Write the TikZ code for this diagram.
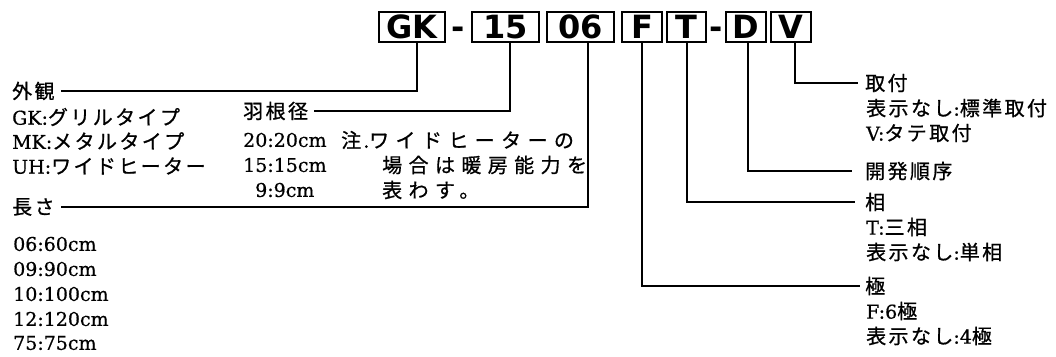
\documentclass[tikz,border=0pt]{standalone}
\usepackage{fontspec}
\setmainfont{DejaVu Serif}[FakeBold=0.6]
\newfontfamily\jp[LetterSpace=12,FakeBold=0.8]{Noto Sans CJK JP}
\newfontfamily\jpnote[LetterSpace=32,FakeBold=0.8]{Noto Sans CJK JP}
\newfontfamily\boxfont{DejaVu Sans}
\begin{document}
\begin{tikzpicture}[x=1pt,y=-1pt,
  codebox/.style={draw, line width=1.5pt, minimum height=30pt, inner sep=0pt,
    font=\boxfont\bfseries\fontsize{32}{32}\selectfont},
  dashtxt/.style={inner sep=0pt, anchor=base, font=\boxfont\bfseries\fontsize{32}{32}\selectfont},
  lbl/.style={inner sep=0pt, anchor=west, font=\fontsize{19}{22}\selectfont},
  jpf/.style={},
  conn/.style={line width=1.2pt}]
\useasboundingbox (0,0) rectangle (1056,356);

% code boxes
\node[codebox, minimum width=66pt] (gkbox) at (412,27) {GK};
\node[dashtxt] (dash1) at (458,38) {-};
\node[codebox, minimum width=67pt] (b15) at (505.5,27) {15};
\node[codebox, minimum width=67pt] (b06) at (580.5,27) {06};
\node[codebox, minimum width=40pt] (bF) at (642,27) {F};
\node[codebox, minimum width=39pt] (bT) at (686.5,27) {T};
\node[dashtxt] (dash2) at (716,38) {-};
\node[codebox, minimum width=40pt] (bD) at (746,27) {D};
\node[codebox, minimum width=40pt] (bV) at (791,27) {V};

% left column
\node[lbl] (gaikan) at (12,91) {\jp\fontsize{20}{22}\selectfont 外観};
\node[lbl] (gk) at (12,117) {GK:{\jp\fontsize{20}{22}\selectfont グリルタイプ}};
\node[lbl] (mk) at (12,141) {MK:{\jp\fontsize{20}{22}\selectfont メタルタイプ}};
\node[lbl] (uh) at (12,166) {UH:{\jp\fontsize{20}{22}\selectfont ワイドヒーター}};
\node[lbl] (nagasa) at (12,207) {\jp\fontsize{20}{22}\selectfont 長さ};
\node[lbl] (l06) at (13,244) {06:60cm};
\node[lbl] (l09) at (13,269) {09:90cm};
\node[lbl] (l10) at (13,294) {10:100cm};
\node[lbl] (l12) at (13,319) {12:120cm};
\node[lbl] (l75) at (13,343) {75:75cm};

% middle column
\node[lbl] (haneki) at (243,111) {\jp\fontsize{20}{22}\selectfont 羽根径};
\node[lbl] (h20) at (243,140) {20:20cm};
\node[lbl] (h15) at (243,165) {15:15cm};
\node[lbl] (h9) at (255,190) {9:9cm};
\node[lbl] (note1) at (341,140) {{\jp\fontsize{20}{22}\selectfont 注.}{\jpnote\fontsize{20}{22}\selectfont ワイドヒーターの}};
\node[lbl] (note2) at (382,165) {\jpnote\fontsize{20}{22}\selectfont 場合は暖房能力を};
\node[lbl] (note3) at (382,190) {\jpnote\fontsize{20}{22}\selectfont 表わす。};

% right column
\node[lbl] (toritsuke) at (865,83) {\jp\fontsize{20}{22}\selectfont 取付};
\node[lbl] (r1) at (866,108) {\jp\fontsize{20}{22}\selectfont 表示なし{\rmfamily\fontsize{19}{22}\selectfont:}標準取付};
\node[lbl] (r2) at (866,133) {V:{\jp\fontsize{20}{22}\selectfont タテ取付}};
\node[lbl] (kaihatsu) at (865,171) {\jp\fontsize{20}{22}\selectfont 開発順序};
\node[lbl] (sou) at (865,202) {\jp\fontsize{20}{22}\selectfont 相};
\node[lbl] (r3) at (866,227) {T:{\jp\fontsize{20}{22}\selectfont 三相}};
\node[lbl] (r4) at (866,252) {\jp\fontsize{20}{22}\selectfont 表示なし{\rmfamily\fontsize{19}{22}\selectfont:}単相};
\node[lbl] (kyoku) at (865,286) {\jp\fontsize{20}{22}\selectfont 極};
\node[lbl] (r5) at (866,311) {F:6{\jp\fontsize{20}{22}\selectfont 極}};
\node[lbl] (r6) at (866,336) {\jp\fontsize{20}{22}\selectfont 表示なし{\rmfamily\fontsize{19}{22}\selectfont:4}極};

% connectors
\draw[conn] ([xshift=5pt]gkbox.south) |- ([xshift=6pt]gaikan.east);
\draw[conn] ([xshift=4.5pt]b15.south) |- ([xshift=6pt]haneki.east);
\draw[conn] ([xshift=7.5pt]b06.south) |- ([xshift=6pt]nagasa.east);
\draw[conn] (bF.south) |- ([xshift=-5pt]kyoku.west);
\draw[conn] ([xshift=0.5pt]bT.south) |- ([xshift=-10pt]sou.west);
\draw[conn] ([xshift=2pt]bD.south) |- ([xshift=-13pt]kaihatsu.west);
\draw[conn] ([xshift=4pt]bV.south) |- ([xshift=-7pt]toritsuke.west);
\end{tikzpicture}
\end{document}
